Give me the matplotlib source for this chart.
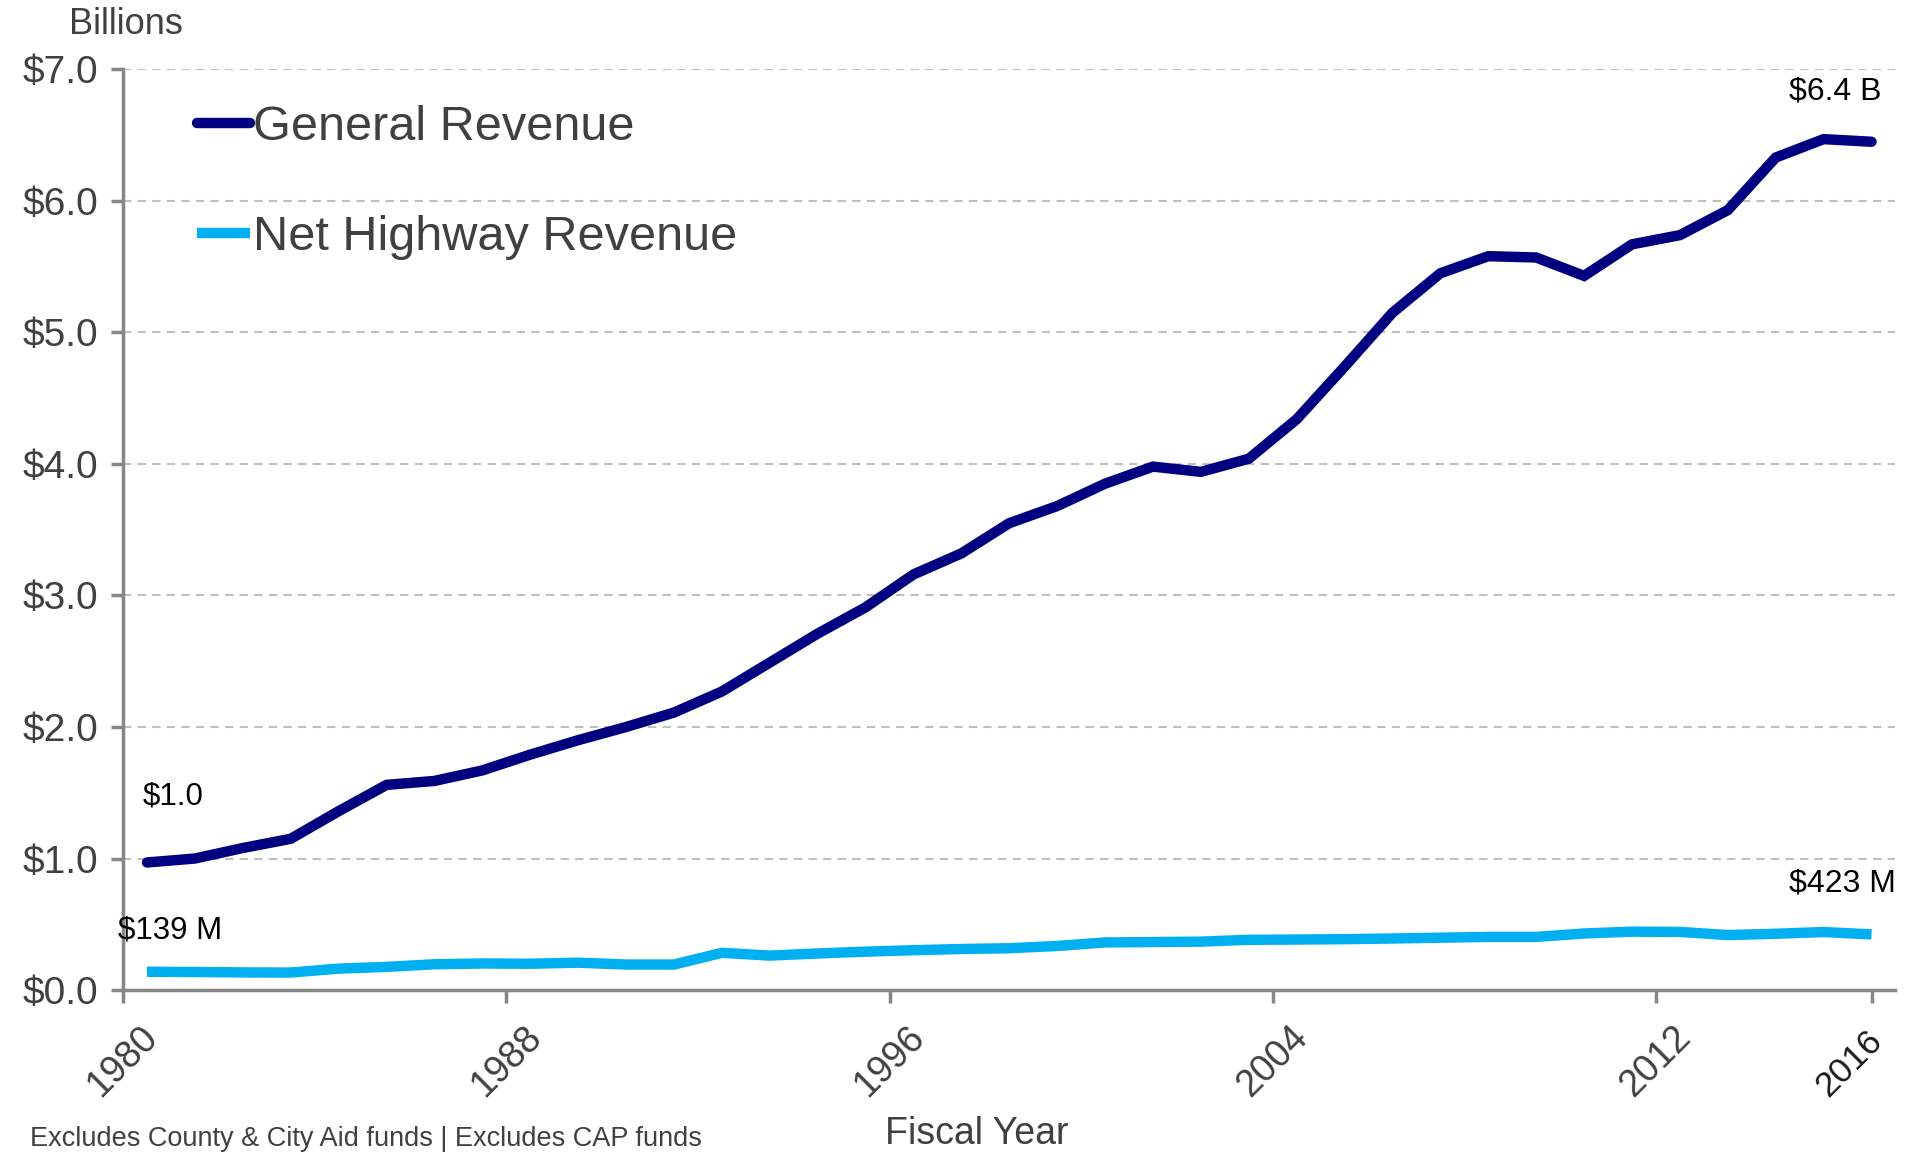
import numpy as np
import matplotlib
matplotlib.use('Agg')
import matplotlib.pyplot as plt
import matplotlib.transforms as mtransforms

plt.rcParams['font.family'] = ['Liberation Sans', 'DejaVu Sans']

# Donnees (en milliards de dollars)
years = np.arange(1980, 2017)
general_revenue = [0.97, 1.00, 1.08, 1.15, 1.36, 1.56, 1.59, 1.67, 1.79, 1.90,
                   2.00, 2.11, 2.27, 2.49, 2.71, 2.91, 3.16, 3.32, 3.55, 3.68,
                   3.85, 3.98, 3.94, 4.04, 4.34, 4.74, 5.15, 5.45, 5.58, 5.57,
                   5.43, 5.67, 5.74, 5.93, 6.33, 6.47, 6.45]
highway_revenue = [0.139, 0.137, 0.134, 0.133, 0.163, 0.176, 0.196, 0.202, 0.200, 0.208,
                   0.194, 0.194, 0.283, 0.262, 0.278, 0.292, 0.303, 0.312, 0.318, 0.335,
                   0.362, 0.365, 0.368, 0.382, 0.384, 0.387, 0.392, 0.398, 0.404, 0.404,
                   0.430, 0.444, 0.442, 0.418, 0.428, 0.441, 0.423]
tick_years = [1979.5, 1987.5, 1995.5, 2003.5, 2011.5, 2016]
tick_labels = ['1980', '1988', '1996', '2004', '2012', '2016']
y_ticks = [0, 1, 2, 3, 4, 5, 6, 7]

navy = '#000080'
cyan = '#00B0F0'
grey_txt = '#404040'
spine = '#868686'

fig = plt.figure(figsize=(19.05, 11.57), dpi=100)
ax = fig.add_axes([0.0646, 0.1443, 0.9304, 0.7957])

ax.plot(years, general_revenue, color=navy, lw=7.5, solid_capstyle='round',
        solid_joinstyle='miter', label='General Revenue', zorder=3)
ax.plot(years, highway_revenue, color=cyan, lw=7.5, solid_capstyle='butt',
        solid_joinstyle='miter', label='Net Highway Revenue', zorder=3)

ax.set_xlim(1979.5, 2016.5)
ax.set_ylim(0, 7)
ax.set_yticks(y_ticks)
ax.set_yticklabels(['$%.1f' % v for v in y_ticks])
ax.set_xticks(tick_years)
ax.set_xticklabels([''] * len(tick_years))

# etiquettes d'annees placees a la main (un peu a droite du tick)
for xv, lab in zip(tick_years, tick_labels):
    if lab == '2016':
        dx, dy, col, fs = -0.06, -0.34, '#1a1a1a', 25.5
    else:
        dx, dy, col, fs = 0.165, -0.29, grey_txt, 27
    tr = ax.get_xaxis_transform() + mtransforms.ScaledTranslation(dx, dy, fig.dpi_scale_trans)
    ax.text(xv, 0, lab, transform=tr, rotation=45, ha='right', va='top',
            rotation_mode='anchor', fontsize=fs, color=col)

for v in y_ticks[1:]:
    ax.axhline(v, color='#BFBFBF', lw=1.5, ls=(0, (4, 3)), zorder=1)

for s in ['top', 'right']:
    ax.spines[s].set_visible(False)
for s in ['left', 'bottom']:
    ax.spines[s].set_color(spine)
    ax.spines[s].set_linewidth(2.5)

ax.tick_params(axis='both', colors=spine, width=2.5, length=9, direction='out')
ax.tick_params(axis='y', labelsize=28, labelcolor=grey_txt, pad=9)

leg = ax.legend(loc='upper left', bbox_to_anchor=(0.017, 1.009), frameon=False,
                fontsize=35, handlelength=1.1, handletextpad=0.05, labelspacing=1.33)
for t in leg.get_texts():
    t.set_color(grey_txt)

# Annotations
ax.text(1979.92, 1.47, '$1.0', fontsize=22.5, va='center', ha='left', color='black')
ax.text(1979.4, 0.45, '$139 M', fontsize=22.5, va='center', ha='left', color='black')
ax.text(2016.2, 6.83, '$6.4 B', fontsize=23, va='center', ha='right', color='black')
ax.text(2016.5, 0.81, '$423 M', fontsize=23, va='center', ha='right', color='black')

fig.text(69 / 1905, 1 - 25 / 1157, 'Billions', fontsize=26, color=grey_txt,
         ha='left', va='center')
fig.text(977 / 1905, 1 - 1134 / 1157, 'Fiscal Year', fontsize=27, color=grey_txt,
         ha='center', va='center')
fig.text(30 / 1905, 1 - 1139 / 1157, 'Excludes County & City Aid funds | Excludes CAP funds',
         fontsize=19.5, color=grey_txt, ha='left', va='center')

fig.savefig('out.png', dpi=100, facecolor='white')
